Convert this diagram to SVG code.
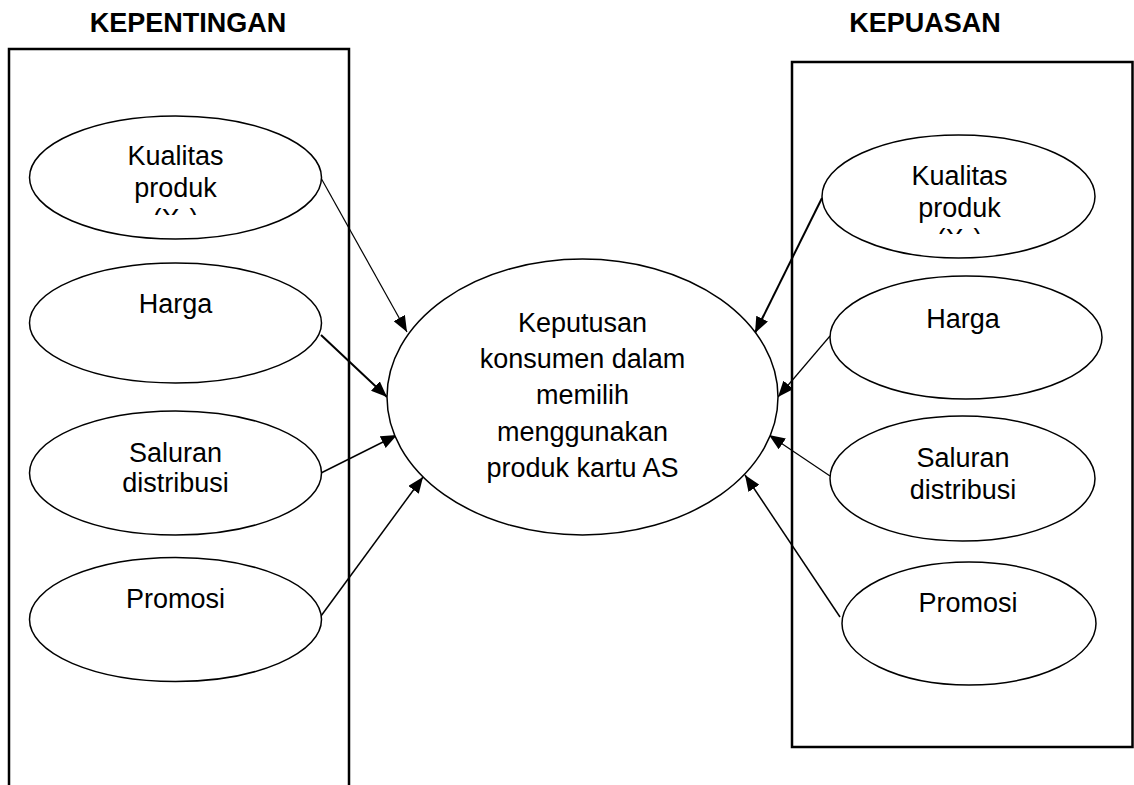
<svg xmlns="http://www.w3.org/2000/svg" width="1134" height="785" viewBox="0 0 1134 785">
<style>
  .box { fill: none; stroke: #000; stroke-width: 2.5; }
  .node { fill: #fff; stroke: #000; stroke-width: 1.5; }
  .t { font-family: "Liberation Sans", Arial, sans-serif; font-size: 27px; fill: #000; text-anchor: middle; }
  .title { font-family: "Liberation Sans", Arial, sans-serif; font-size: 27px; font-weight: bold; fill: #000; text-anchor: middle; }
  .c { stroke: #000; stroke-width: 1.5; fill: none; marker-end: url(#ah); }
  .c2 { stroke-width: 2; }
  .c1 { stroke-width: 1.2; }
</style>
<defs>
  <marker id="ah" markerUnits="userSpaceOnUse" markerWidth="16" markerHeight="13" refX="16" refY="6.5" orient="auto">
    <path d="M0,0 L16,6.5 L0,13 z" fill="#000"/>
  </marker>
  <clipPath id="clipL"><rect x="0" y="0" width="400" height="215"/></clipPath>
  <clipPath id="clipR"><rect x="780" y="0" width="354" height="234"/></clipPath>
</defs>
<rect width="1134" height="785" fill="#fff"/>

<g id="title-kepentingan"><text class="title" x="188" y="32">KEPENTINGAN</text></g>
<g id="title-kepuasan"><text class="title" x="925" y="32">KEPUASAN</text></g>

<g id="box-kepentingan"><path class="box" d="M9,790 V49 H349 V790"/></g>
<g id="box-kepuasan"><rect class="box" x="792" y="62" width="340.5" height="685"/></g>

<g id="connectors">
  <line class="c c1" x1="321" y1="178" x2="407" y2="332"/>
  <line class="c c2" x1="321" y1="335" x2="387" y2="397"/>
  <line class="c" x1="321" y1="473" x2="397" y2="435"/>
  <line class="c" x1="321" y1="616" x2="423" y2="477"/>
  <line class="c c2" x1="822" y1="198" x2="755" y2="333"/>
  <line class="c c1" x1="830" y1="336" x2="778" y2="397"/>
  <line class="c c1" x1="830" y1="476" x2="769" y2="435"/>
  <line class="c" x1="840" y1="617" x2="745" y2="475"/>
</g>

<g id="center">
  <ellipse class="node" cx="582.5" cy="397" rx="195.5" ry="138"/>
  <text class="t" x="582.5" y="331.5">Keputusan</text>
  <text class="t" x="582.5" y="368">konsumen dalam</text>
  <text class="t" x="582.5" y="404">memilih</text>
  <text class="t" x="582.5" y="440.5">menggunakan</text>
  <text class="t" x="582.5" y="476.5">produk kartu AS</text>
</g>

<g id="l-kualitas">
  <ellipse class="node" cx="175.5" cy="177.5" rx="146" ry="61.5"/>
  <text class="t" x="175.5" y="165">Kualitas</text>
  <text class="t" x="175.5" y="196.5">produk</text>
  <text class="t" x="175.5" y="228" clip-path="url(#clipL)">(X<tspan font-size="18" dy="4">1</tspan><tspan dy="-4">)</tspan></text>
</g>
<g id="l-harga">
  <ellipse class="node" cx="175.5" cy="323" rx="146" ry="60"/>
  <text class="t" x="175.5" y="312.5">Harga</text>
</g>
<g id="l-saluran">
  <ellipse class="node" cx="175.5" cy="473" rx="146" ry="62"/>
  <text class="t" x="175.5" y="461.5">Saluran</text>
  <text class="t" x="175.5" y="491.5">distribusi</text>
</g>
<g id="l-promosi">
  <ellipse class="node" cx="175.5" cy="619.5" rx="146" ry="62"/>
  <text class="t" x="175.5" y="608">Promosi</text>
</g>

<g id="r-kualitas">
  <ellipse class="node" cx="958.5" cy="196.5" rx="136.5" ry="61.5"/>
  <text class="t" x="959.5" y="185">Kualitas</text>
  <text class="t" x="959.5" y="216.5">produk</text>
  <text class="t" x="959.5" y="248" clip-path="url(#clipR)">(X<tspan font-size="18" dy="4">1</tspan><tspan dy="-4">)</tspan></text>
</g>
<g id="r-harga">
  <ellipse class="node" cx="966" cy="337.5" rx="136" ry="61.5"/>
  <text class="t" x="963" y="328">Harga</text>
</g>
<g id="r-saluran">
  <ellipse class="node" cx="962.5" cy="478.5" rx="132.5" ry="62.5"/>
  <text class="t" x="963" y="467">Saluran</text>
  <text class="t" x="963" y="499">distribusi</text>
</g>
<g id="r-promosi">
  <ellipse class="node" cx="969" cy="623.5" rx="127" ry="61.5"/>
  <text class="t" x="968" y="611.5">Promosi</text>
</g>
</svg>
